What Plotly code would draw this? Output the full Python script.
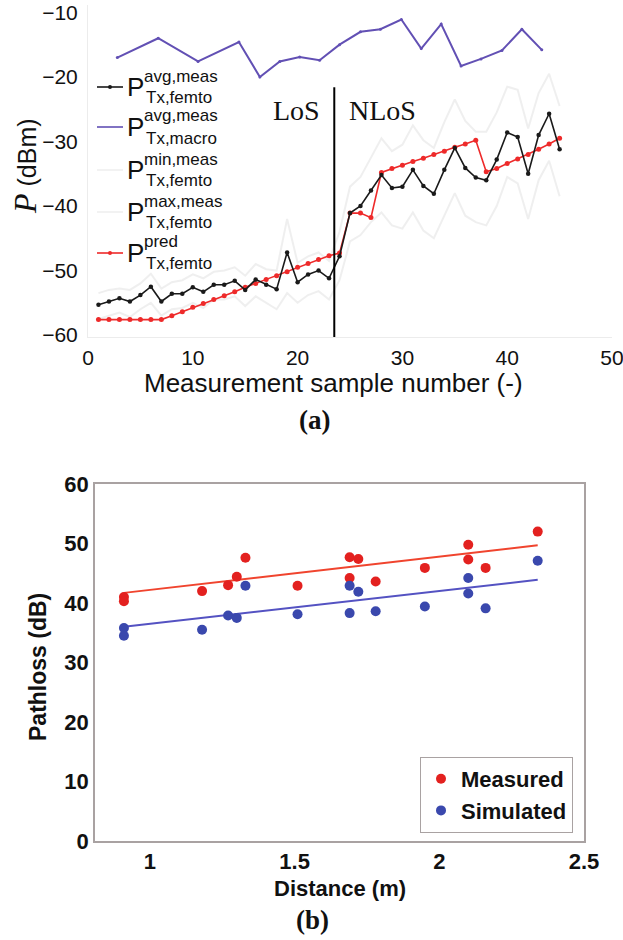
import plotly.graph_objects as go

W, H = 623, 940

# ---------------- (a) transmit power per measurement sample ----------------
samples = list(range(1, 46))

p_avg_femto = [-55.3, -54.8, -54.3, -54.8, -53.8, -52.5, -54.8, -53.6, -53.6, -52.6,
               -53.3, -52.2, -52.2, -51.6, -53.0, -51.4, -52.2, -52.9, -47.2, -51.8,
               -50.6, -50.0, -51.2, -47.8, -41.1, -40.0, -37.6, -35.2, -37.2, -37.0,
               -34.4, -36.9, -38.1, -34.4, -31.0, -34.1, -35.6, -36.0, -32.8, -28.6,
               -29.3, -35.0, -29.0, -25.7, -31.2]

p_max_femto = [-53.5, -53.0, -52.8, -53.0, -52.0, -50.5, -52.8, -51.8, -51.5, -50.6,
               -51.2, -50.2, -50.0, -49.5, -50.8, -49.0, -49.8, -50.0, -42.0, -48.8,
               -47.8, -47.2, -48.5, -44.0, -37.0, -35.5, -32.5, -29.5, -31.5, -30.5,
               -27.5, -29.8, -31.0, -27.0, -23.5, -26.8, -28.5, -28.5, -25.5, -21.5,
               -22.0, -28.0, -22.5, -19.5, -24.5]

p_min_femto = [-57.5, -57.0, -56.5, -57.2, -56.0, -55.0, -57.0, -56.0, -55.8, -55.0,
               -55.8, -54.5, -54.5, -54.0, -55.5, -54.0, -55.0, -56.0, -53.5, -55.0,
               -53.8, -53.2, -54.5, -51.5, -45.5, -44.5, -42.5, -41.0, -43.0, -43.5,
               -41.0, -43.8, -45.0, -41.5, -38.0, -41.5, -42.5, -43.0, -40.0, -35.5,
               -36.5, -42.0, -36.0, -33.0, -38.5]

p_pred_femto = [-57.6, -57.6, -57.6, -57.6, -57.6, -57.6, -57.6, -57.0, -56.4, -55.7,
                -55.1, -54.5, -53.9, -53.3, -52.6, -52.0, -51.4, -50.8, -50.2, -49.5,
                -48.9, -48.3, -47.7, -47.3, -41.1, -41.1, -41.8, -34.8, -34.2, -33.7,
                -33.1, -32.6, -32.0, -31.5, -30.9, -30.4, -29.8, -34.7, -34.2, -33.4,
                -32.7, -32.0, -31.2, -30.4, -29.5]

macro_samples = [2.8, 6.7, 10.5, 14.4, 16.4, 18.3, 20.2, 22.1, 24.0, 26.0,
                 27.9, 29.9, 31.8, 33.7, 35.6, 37.5, 39.5, 41.4, 43.3]
p_avg_macro = [-17.0, -14.0, -17.6, -14.6, -20.0, -17.6, -16.9, -17.4, -15.0, -13.0,
               -12.6, -11.1, -15.6, -11.8, -18.3, -17.2, -15.9, -12.6, -15.8]

los_boundary = 23.5          # sample index where LoS turns into NLoS
los_line_top = -21.6

# ---------------- (b) pathloss versus distance ----------------
distance = [0.91, 0.91, 1.18, 1.27, 1.30, 1.33, 1.51, 1.69, 1.72, 1.69,
            1.78, 1.95, 2.10, 2.10, 2.16, 2.34]
pl_measured = [41.0, 40.3, 42.0, 43.0, 44.4, 47.6, 42.9, 47.7, 47.4, 44.2,
               43.6, 45.9, 49.8, 47.3, 45.9, 52.0]
pl_simulated = [35.8, 34.5, 35.5, 37.9, 37.5, 42.9, 38.1, 42.9, 41.9, 38.3,
                38.6, 39.4, 44.2, 41.6, 39.1, 47.1]

fit_distance = [0.91, 2.34]
fit_measured = [41.7, 49.7]
fit_simulated = [36.0, 43.9]

BLACK = "#1a1a1a"
PURPLE = "#6250b4"
RED = "#ee2a2a"
FAINT = "rgba(160,160,160,0.17)"
M_RED = "#e3211f"
M_BLUE = "#3a48ad"
L_RED = "#f0442e"
L_BLUE = "#5452c2"

SANS = "Liberation Sans"
SERIF = "Liberation Serif"


def px(x):
    return x / W


def py(y):
    return 1 - y / H


fig = go.Figure()

# faint min / max envelopes
fig.add_trace(go.Scatter(x=samples, y=p_max_femto, mode="lines",
                         line=dict(color=FAINT, width=2), xaxis="x", yaxis="y",
                         showlegend=False))
fig.add_trace(go.Scatter(x=samples, y=p_min_femto, mode="lines",
                         line=dict(color=FAINT, width=2), xaxis="x", yaxis="y",
                         showlegend=False))
fig.add_trace(go.Scatter(x=macro_samples, y=p_avg_macro, mode="lines+markers",
                         line=dict(color=PURPLE, width=2),
                         marker=dict(size=3, color=PURPLE),
                         xaxis="x", yaxis="y", showlegend=False))
fig.add_trace(go.Scatter(x=samples, y=p_pred_femto, mode="lines+markers",
                         line=dict(color=RED, width=1.6),
                         marker=dict(size=5, color=RED),
                         xaxis="x", yaxis="y", showlegend=False))
fig.add_trace(go.Scatter(x=samples, y=p_avg_femto, mode="lines+markers",
                         line=dict(color=BLACK, width=1.6),
                         marker=dict(size=4.5, color=BLACK),
                         xaxis="x", yaxis="y", showlegend=False))

# LoS / NLoS separator
fig.add_shape(type="line", xref="x", yref="y", x0=los_boundary, x1=los_boundary,
              y0=los_line_top, y1=-60.3, line=dict(color="black", width=2))

# ---- bottom panel ----
fig.add_trace(go.Scatter(x=fit_distance, y=fit_measured, mode="lines",
                         line=dict(color=L_RED, width=2), xaxis="x2", yaxis="y2",
                         showlegend=False))
fig.add_trace(go.Scatter(x=fit_distance, y=fit_simulated, mode="lines",
                         line=dict(color=L_BLUE, width=2), xaxis="x2", yaxis="y2",
                         showlegend=False))
fig.add_trace(go.Scatter(x=distance, y=pl_measured, mode="markers", name="Measured",
                         marker=dict(size=10, color=M_RED), xaxis="x2", yaxis="y2"))
fig.add_trace(go.Scatter(x=distance, y=pl_simulated, mode="markers", name="Simulated",
                         marker=dict(size=10, color=M_BLUE), xaxis="x2", yaxis="y2"))

ann = []
shapes = []

# legend of panel (a), drawn by hand so super/subscripts stack
shapes.append(dict(type="rect", xref="paper", yref="paper",
                   x0=px(93), x1=px(232), y0=py(66), y1=py(275),
                   line=dict(color="#e2e2e2", width=1), fillcolor="white", layer="below"))
leg_entries = [
    (87, "avg,meas", "Tx,femto", BLACK, True),
    (127, "avg,meas", "Tx,macro", PURPLE, False),
    (170, "min,meas", "Tx,femto", FAINT, False),
    (212, "max,meas", "Tx,femto", FAINT, False),
    (253, "pred", "Tx,femto", RED, True),
]
for yc, sup, sub, col, dot in leg_entries:
    shapes.append(dict(type="line", xref="paper", yref="paper",
                       x0=px(97), x1=px(123), y0=py(yc), y1=py(yc),
                       line=dict(color=col, width=1.6)))
    if dot:
        shapes.append(dict(type="circle", xref="paper", yref="paper",
                           x0=px(108), x1=px(112), y0=py(yc + 2), y1=py(yc - 2),
                           fillcolor=col, line=dict(width=0)))
    ann.append(dict(text="P", x=px(125), y=py(yc), xanchor="left", yanchor="middle",
                    font=dict(family=SANS, size=26, color="#111")))
    ann.append(dict(text=sup, x=px(142), y=py(yc - 11), xanchor="left", yanchor="middle",
                    font=dict(family=SANS, size=17, color="#111")))
    ann.append(dict(text=sub, x=px(144), y=py(yc + 11), xanchor="left", yanchor="middle",
                    font=dict(family=SANS, size=17, color="#111")))

ann.append(dict(text="LoS", x=px(296), y=py(110), xanchor="center", yanchor="middle",
                font=dict(family=SERIF, size=28, color="#111")))
ann.append(dict(text="NLoS", x=px(382), y=py(110), xanchor="center", yanchor="middle",
                font=dict(family=SERIF, size=28, color="#111")))

ann.append(dict(text='<span style="font-family:Liberation Serif;font-size:32px"><i>P</i></span> (dBm)',
                x=px(25), y=py(166), textangle=-90, xanchor="center", yanchor="middle",
                font=dict(family=SANS, size=25, color="#111")))
ann.append(dict(text="Measurement sample number (-)", x=px(333), y=py(383),
                xanchor="center", yanchor="middle",
                font=dict(family=SANS, size=26, color="#111")))
ann.append(dict(text="<b>(a)</b>", x=px(314), y=py(420), xanchor="center", yanchor="middle",
                font=dict(family=SERIF, size=27, color="#111")))

ann.append(dict(text="<b>Pathloss (dB)</b>", x=px(38), y=py(667), textangle=-90,
                xanchor="center", yanchor="middle",
                font=dict(family=SANS, size=23, color="#111")))
ann.append(dict(text="<b>Distance (m)</b>", x=px(340), y=py(888), xanchor="center",
                yanchor="middle", font=dict(family=SANS, size=22, color="#111")))
ann.append(dict(text="<b>(b)</b>", x=px(312), y=py(920), xanchor="center", yanchor="middle",
                font=dict(family=SERIF, size=27, color="#111")))

for a in ann:
    a.setdefault("xref", "paper")
    a.setdefault("yref", "paper")
    a["showarrow"] = False

fig.update_layout(
    width=W, height=H,
    margin=dict(l=0, r=0, t=0, b=0, autoexpand=False),
    paper_bgcolor="white", plot_bgcolor="white",
    annotations=ann, shapes=shapes,
    xaxis=dict(domain=[px(88), px(612)], range=[0, 50], anchor="y", automargin=False,
               tickvals=[0, 10, 20, 30, 40, 50], showgrid=False, zeroline=False,
               showline=True, linecolor="#ececec", ticks="", ticklabelstandoff=2,
               ticklabeloverflow="allow",
               tickfont=dict(family=SANS, size=21, color="#111")),
    yaxis=dict(domain=[py(337), py(5)], range=[-60.3, -8.85], anchor="x", automargin=False,
               tickvals=[-60, -50, -40, -30, -20, -10], showgrid=False, zeroline=False,
               showline=True, linecolor="#ececec", ticks="", ticklabelstandoff=5,
               tickfont=dict(family=SANS, size=21, color="#111")),
    xaxis2=dict(domain=[px(95), px(584)], range=[0.81, 2.5], anchor="y2", automargin=False,
                tickvals=[1, 1.5, 2, 2.5], ticktext=["1", "1.5", "2", "2.5"],
                showgrid=False, zeroline=False, showline=True, mirror=True,
                linecolor="#a9a2a2", linewidth=1.5, ticks="", ticklabelstandoff=0,
                ticklabeloverflow="allow",
                tickfont=dict(family=SANS, size=22, color="#111", weight="bold")),
    yaxis2=dict(domain=[py(841), py(484)], range=[0, 60], anchor="x2", automargin=False,
                tickvals=[0, 10, 20, 30, 40, 50, 60], showgrid=False, zeroline=False,
                showline=True, mirror=True, linecolor="#a9a2a2", linewidth=1.5,
                ticks="", ticklabelstandoff=0,
                tickfont=dict(family=SANS, size=22, color="#111", weight="bold")),
    legend=dict(x=px(420), y=py(757), xanchor="left", yanchor="top",
                bgcolor="white", bordercolor="#a9a2a2", borderwidth=1,
                font=dict(family=SANS, size=22, color="#111", weight="bold"),
                itemwidth=30, tracegroupgap=0),
)

fig.write_html("out.html")
